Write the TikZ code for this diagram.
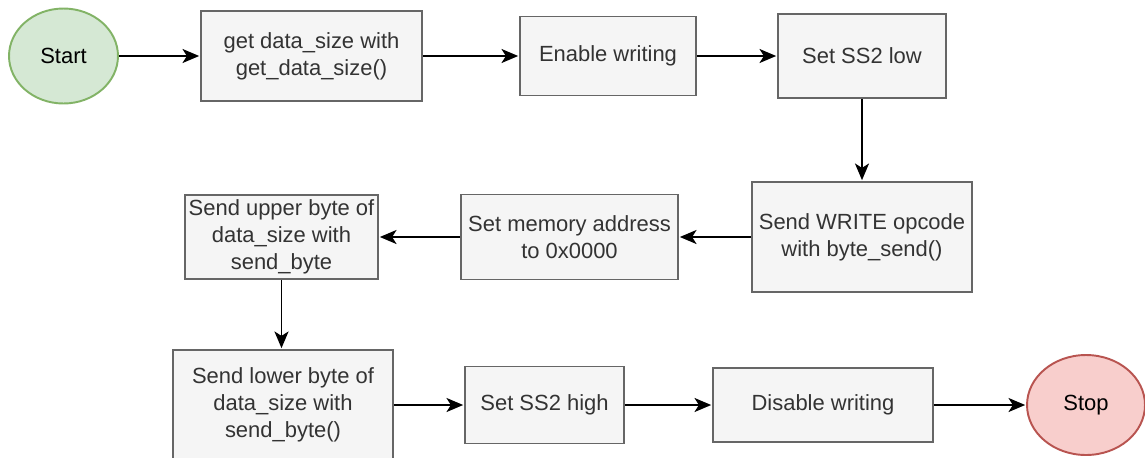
\documentclass[tikz,border=0pt]{standalone}
\usepackage{fontspec}
\setmainfont{Liberation Sans}
\usepackage{tikz}
\usetikzlibrary{arrows.meta,positioning,shapes.geometric}
\definecolor{boxfill}{HTML}{F5F5F5}
\definecolor{boxline}{HTML}{666666}
\definecolor{boxtext}{HTML}{333333}
\definecolor{startfill}{HTML}{D5E8D4}
\definecolor{startline}{HTML}{82B366}
\definecolor{stopfill}{HTML}{F8CECC}
\definecolor{stopline}{HTML}{B85450}

\begin{document}
\begin{tikzpicture}[>=Stealth,x=0.02cm,y=-0.02cm,
  font=\fontsize{12.5}{15.5}\selectfont,
  box/.style={draw=boxline,fill=boxfill,text=boxtext,line width=1.1pt,align=center,inner sep=2pt},
  term/.style={ellipse,line width=1.1pt,inner sep=0pt},
  flow/.style={line width=1pt,shorten >=0.5pt,arrows={-Stealth[length=9.5pt,width=8pt,inset=2.5pt]}}]
\useasboundingbox (0,0) rectangle (1145,457);
% top row
\node[term,draw=startline,fill=startfill,minimum width=2.18cm,minimum height=1.90cm] (start) at (63.5,56) {Start};
\node[box,minimum width=4.42cm,minimum height=1.80cm] (size) at (311.5,56) {get data\_size with\\get\_data\_size()};
\node[box,minimum width=3.52cm,minimum height=1.58cm] (enable) at (608,56) {Enable writing};
\node[box,minimum width=3.36cm,minimum height=1.68cm] (sslow) at (862,56) {Set SS2 low};
% middle row
\node[box,minimum width=4.40cm,minimum height=2.20cm] (opcode) at (862,237) {Send WRITE opcode\\with byte\_send()};
\node[box,minimum width=4.34cm,minimum height=1.70cm] (addr) at (569.5,237) {Set memory address\\to 0x0000};
\node[box,minimum width=3.86cm,minimum height=1.68cm] (upper) at (281.5,237) {Send upper byte of\\data\_size with\\send\_byte};
% bottom row
\node[box,minimum width=4.40cm,minimum height=2.20cm] (lower) at (283,405) {Send lower byte of\\data\_size with\\send\_byte()};
\node[box,minimum width=3.18cm,minimum height=1.54cm] (sshigh) at (544.5,405) {Set SS2 high};
\node[box,minimum width=4.40cm,minimum height=1.48cm] (disable) at (823,405) {Disable writing};
\node[term,draw=stopline,fill=stopfill,minimum width=2.36cm,minimum height=2.00cm] (stop) at (1086,405) {Stop};

\draw[flow] (start) -- (size);
\draw[flow] (size) -- (enable);
\draw[flow] (enable) -- (sslow);
\draw[flow] (sslow) -- (opcode);
\draw[flow] (opcode) -- (addr);
\draw[flow] (addr) -- (upper);
\draw[flow] (upper.south) -- (upper.south |- lower.north);
\draw[flow] (lower) -- (sshigh);
\draw[flow] (sshigh) -- (disable);
\draw[flow] (disable) -- (stop);
\end{tikzpicture}
\end{document}
